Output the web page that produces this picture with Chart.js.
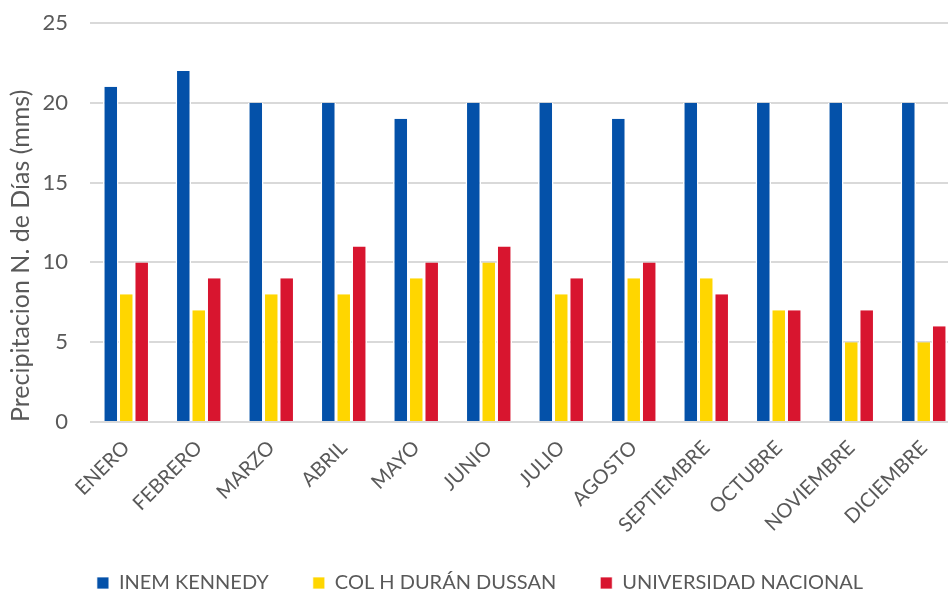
<!DOCTYPE html>
<html>
<head>
<meta charset="utf-8">
<script src="https://cdn.jsdelivr.net/npm/chart.js@4.4.1/dist/chart.umd.min.js"></script>
<style>
  html, body { margin: 0; padding: 0; background: #fff; overflow: hidden; }
  #wrap { position: relative; width: 962px; height: 592px; }
</style>
</head>
<body>
<div id="wrap"><canvas id="chart"></canvas></div>
<script>
// Precipitación - número de días por mes
const months = ['ENERO', 'FEBRERO', 'MARZO', 'ABRIL', 'MAYO', 'JUNIO', 'JULIO',
  'AGOSTO', 'SEPTIEMBRE', 'OCTUBRE', 'NOVIEMBRE', 'DICIEMBRE'];
const inemKennedy = [21, 22, 20, 20, 19, 20, 20, 19, 20, 20, 20, 20];
const colDuranDussan = [8, 7, 8, 8, 9, 10, 8, 9, 9, 7, 5, 5];
const univNacional = [10, 9, 9, 11, 10, 11, 9, 10, 8, 7, 7, 6];
const yTicks = [0, 5, 10, 15, 20, 25];

const textColor = '#595959';
const gridColor = '#d9d9d9';
const fontFamily = 'Lato, "Open Sans", sans-serif';

function barSet(label, data, color) {
  return {
    label,
    data,
    backgroundColor: color,
    borderColor: '#ffffff',
    borderWidth: { left: 1.5, right: 1.5, top: 0, bottom: 0 },
    borderSkipped: false,
    categoryPercentage: 0.64,
    barPercentage: 1.0
  };
}

const ctx = document.getElementById('chart').getContext('2d');
new Chart(ctx, {
  type: 'bar',
  data: {
    labels: months,
    datasets: [
      barSet('INEM KENNEDY', inemKennedy, '#0451a9'),
      barSet('COL H DURÁN DUSSAN', colDuranDussan, '#ffd600'),
      barSet('UNIVERSIDAD NACIONAL', univNacional, '#d8152f')
    ]
  },
  options: {
    responsive: true,
    maintainAspectRatio: false,
    animation: false,
    layout: { padding: { top: 23, right: 2, left: 0, bottom: -11 } },
    plugins: {
      tooltip: { enabled: false },
      legend: {
        display: true,
        position: 'bottom',
        align: 'center',
        labels: {
          color: textColor,
          font: { family: fontFamily, size: 20 },
          boxWidth: 12,
          boxHeight: 12,
          padding: 44
        }
      }
    },
    scales: {
      x: {
        grid: { display: false },
        border: { display: false },
        ticks: {
          color: textColor,
          font: { family: fontFamily, size: 20 },
          minRotation: 45,
          maxRotation: 45,
          padding: 6
        },
        afterFit: (scale) => {
          scale.height = 107;
          // let rotated labels spill below the axis box
          scale._computeLabelArea = () => null;
        }
      },
      y: {
        min: 0,
        max: 25,
        afterBuildTicks: (scale) => { scale.ticks = yTicks.map(v => ({ value: v })); },
        grid: { color: gridColor, lineWidth: 2, drawTicks: false },
        border: { display: false },
        title: {
          display: true,
          text: 'Precipitacion N. de Días (mms)',
          align: 'start',
          color: textColor,
          font: { family: fontFamily, size: 25 },
          padding: { top: 6, bottom: 0 }
        },
        ticks: {
          color: textColor,
          font: { family: fontFamily, size: 22 },
          padding: 22
        },
        afterFit: (scale) => {
          scale.width = 90;
          scale.paddingTop = 0;
        }
      }
    }
  }
});
</script>
</body>
</html>
